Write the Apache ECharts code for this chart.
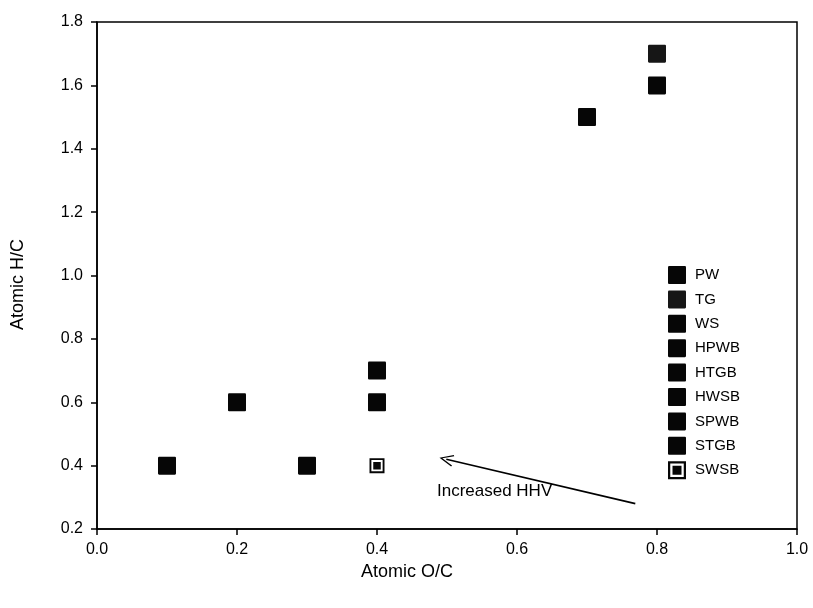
<!DOCTYPE html>
<html><head><meta charset="utf-8">
<script src="https://cdn.jsdelivr.net/npm/echarts@6/dist/echarts.min.js"></script>
<style>html,body{margin:0;padding:0;background:#fff}#c{width:813px;height:608px}</style>
</head><body><div id="c"></div>
<script>
const seriesNames = ['PW','TG','WS','HPWB','HTGB','HWSB','SPWB','STGB','SWSB'];
const xValues = [0.7, 0.8, 0.8, 0.4, 0.4, 0.2, 0.3, 0.1, 0.4];
const yValues = [1.5, 1.7, 1.6, 0.7, 0.6, 0.6, 0.4, 0.4, 0.4];
const xTicks = [0.0, 0.2, 0.4, 0.6, 0.8, 1.0];
const yTicks = [0.2, 0.4, 0.6, 0.8, 1.0, 1.2, 1.4, 1.6, 1.8];
const arrowFrom = [0.769, 0.28];
const arrowTo = [0.499, 0.42];
const noteText = 'Increased HHV';
const notePos = [0.568, 0.318];

const FONT = '"Liberation Sans", Arial, sans-serif';
const squareSym = 'path://M1,0H15Q16,0 16,1V15Q16,16 15,16H1Q0,16 0,15V1Q0,0 1,0Z';
const ringSym = 'path://M0,0H16V16H0Z M2,2V14H14V2Z M4,4H12V12H4Z';
const chevron = 'path://M0,10 L5,0 L10,10 L9,10.5 L5,2.2 L1,10.5 Z';

const series = seriesNames.map((n, i) => ({
  name: n,
  type: 'scatter',
  symbol: n === 'SWSB' ? ringSym : squareSym,
  symbolSize: n === 'SWSB' ? 15 : 18,
  itemStyle: { color: n === 'TG' ? '#161616' : '#060606', opacity: 1 },
  data: [[xValues[i], yValues[i]]],
  z: 3
}));
series.push({
  type: 'scatter', name: '_annot', data: [],
  markLine: {
    silent: true, animation: false,
    lineStyle: { color: '#000', width: 1.6, type: 'solid', opacity: 1 },
    label: { show: false },
    data: [[
      { coord: arrowFrom, symbol: 'none' },
      { coord: arrowTo, symbol: chevron, symbolSize: [12, 14] }
    ]]
  },
  markPoint: {
    silent: true, animation: false,
    symbol: 'circle', symbolSize: 0,
    label: { show: true, formatter: noteText, color: '#000', fontSize: 17, fontFamily: FONT, position: 'inside' },
    data: [{ coord: notePos }]
  }
});

const chart = echarts.init(document.getElementById('c'), null, { renderer: 'canvas' });
chart.setOption({
  animation: false,
  backgroundColor: '#fff',
  grid: { left: 97, right: 16, top: 22, bottom: 79, show: true, borderColor: '#000', borderWidth: 1.5, backgroundColor: 'transparent' },
  legend: {
    data: seriesNames,
    orient: 'vertical',
    left: 663, top: 261,
    itemWidth: 18, itemHeight: 18, itemGap: 6.4,
    textStyle: { fontFamily: FONT, fontSize: 15, color: '#000', padding: [0, 0, 0, 4] },
    selectedMode: false
  },
  xAxis: {
    type: 'value', min: 0, max: 1, interval: 0.2,
    name: 'Atomic O/C', nameLocation: 'middle', nameGap: 32,
    nameTextStyle: { fontFamily: FONT, fontSize: 18, color: '#000', padding: [0, 80, 0, 0] },
    axisLine: { show: true, onZero: false, lineStyle: { color: '#000', width: 1.5 } },
    axisTick: { show: true, inside: false, length: 6, lineStyle: { color: '#000', width: 1.5 } },
    axisLabel: { fontFamily: FONT, fontSize: 16, color: '#000', margin: 13,
      formatter: v => xTicks.find(t => Math.abs(t - v) < 1e-9) !== undefined ? v.toFixed(1) : '' },
    splitLine: { show: false }
  },
  yAxis: {
    type: 'value', min: 0.2, max: 1.8, interval: 0.2,
    name: 'Atomic H/C', nameLocation: 'middle', nameGap: 70,
    nameTextStyle: { fontFamily: FONT, fontSize: 18, color: '#000', padding: [0, 18, 0, 0] },
    axisLine: { show: true, onZero: false, lineStyle: { color: '#000', width: 1.5 } },
    axisTick: { show: true, inside: false, length: 6, lineStyle: { color: '#000', width: 1.5 } },
    axisLabel: { fontFamily: FONT, fontSize: 16, color: '#000', margin: 14,
      formatter: v => yTicks.find(t => Math.abs(t - v) < 1e-9) !== undefined ? v.toFixed(1) : '' },
    splitLine: { show: false }
  },
  series: series
});
</script>
</body></html>
